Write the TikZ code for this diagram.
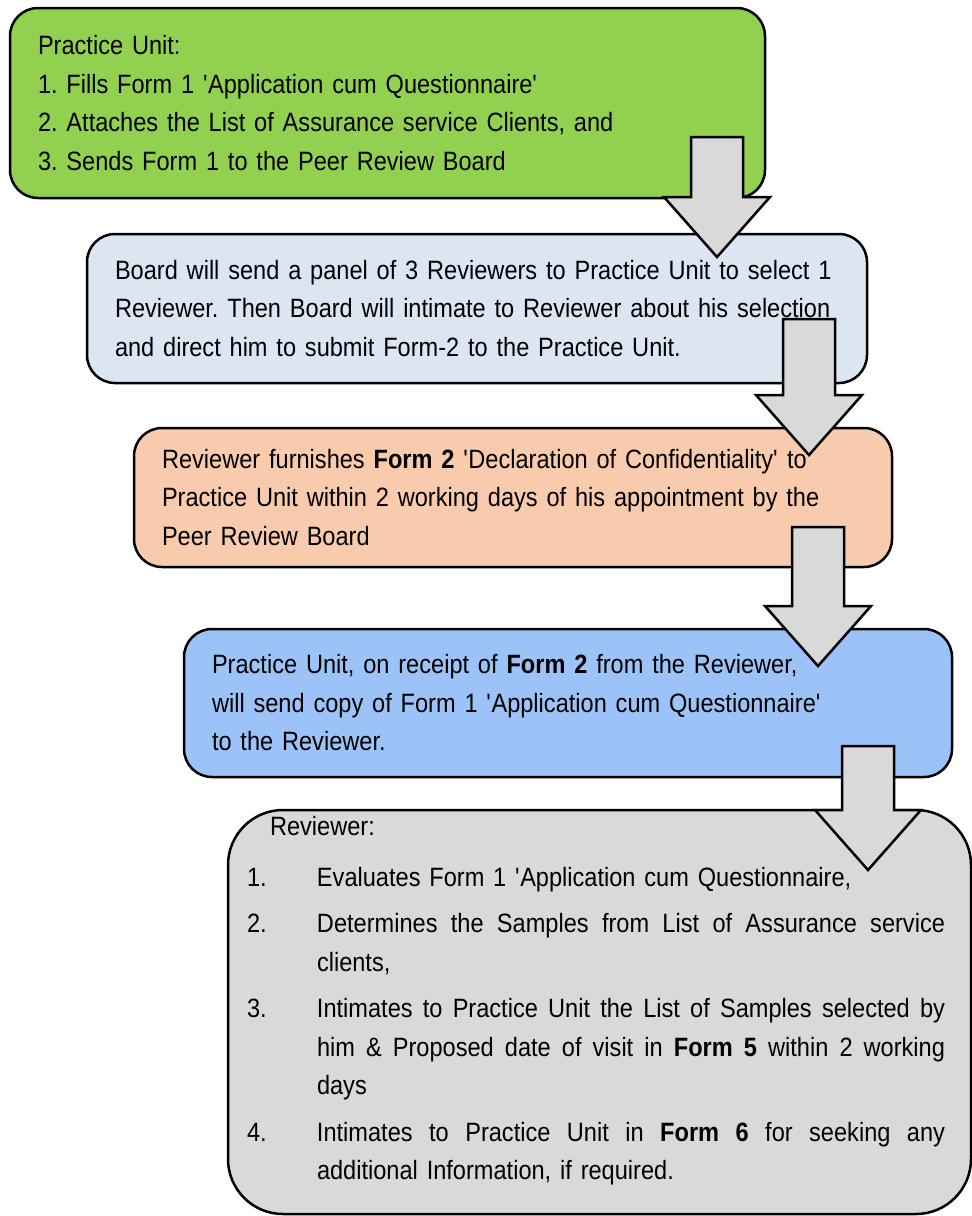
\documentclass[tikz,border=0pt]{standalone}
\usepackage{fontspec}
\setmainfont[FakeStretch=0.89]{Liberation Sans}
\usepackage{tikz}
\usetikzlibrary{positioning,calc}

\definecolor{unitgreen}{RGB}{146,208,80}
\definecolor{boardblue}{RGB}{220,230,242}
\definecolor{formpeach}{RGB}{248,203,173}
\definecolor{copyblue}{RGB}{155,195,248}
\definecolor{reviewgray}{RGB}{217,217,217}

\newcommand{\flowarrow}[2]{%
  \draw[blockarrow] let \p1=(#1), \p2=(#2) in
    (\x1-26pt,\y1) -- (\x1+26pt,\y1) -- (\x1+26pt,\y2+60pt) -- (\x1+53pt,\y2+60pt)
    -- (\x2,\y2) -- (\x1-53pt,\y2+60pt) -- (\x1-26pt,\y2+60pt) -- cycle;}
\newcommand{\justline}[1]{\makebox[628pt][s]{\spaceskip=0.25em plus 1fill minus 0.05em\relax #1}}

\begin{document}
\frenchspacing
\begin{tikzpicture}[x=1pt,y=-1pt,
    stepbox/.style={draw=black, line width=2.5pt, rectangle, rounded corners=28pt,
      align=left, inner xsep=28pt, inner ysep=0pt,
      font=\fontsize{26.5}{38.5}\selectfont},
    blockarrow/.style={draw=black, line width=2.5pt, fill=reviewgray, line join=miter}]
                            \useasboundingbox (0,0) rectangle (972,1216);
                            \node[stepbox, fill=unitgreen, text width=699pt, minimum height=190pt] (B_1) at (387.5,103)
                            {Practice Unit:\\
                            1. Fills Form 1 \textquotesingle Application cum Questionnaire\textquotesingle\\
                            2. Attaches the List of Assurance service Clients, and\\
                            3. Sends Form 1 to the Peer Review Board};
                            \node[stepbox, fill=boardblue, text width=724pt, minimum height=149pt] (B_2) at (477,308.5)
                            {Board will send a panel of 3 Reviewers to Practice Unit to select 1\\
                            Reviewer. Then Board will intimate to Reviewer about his selection\\
                            and direct him to submit Form-2 to the Practice Unit.};
                            \node[stepbox, fill=formpeach, text width=702pt, minimum height=139pt] (B_3) at (513,497.5)
                            {Reviewer furnishes \textbf{Form 2} \textquotesingle Declaration of Confidentiality\textquotesingle{} to\\
                            Practice Unit within 2 working days of his appointment by the\\
                            Peer Review Board};
                            \node[stepbox, fill=copyblue, text width=712pt, minimum height=148pt] (B_4) at (568,703)
                            {Practice Unit, on receipt of \textbf{Form 2} from the Reviewer,\\
                            will send copy of Form 1 \textquotesingle Application cum Questionnaire\textquotesingle\\
                            to the Reviewer.};
                            \node[stepbox, fill=reviewgray, rounded corners=55pt, inner xsep=19pt, text width=705pt,
                              minimum height=404pt] (B_5) at (599.5,1012)
                            {\hspace*{23pt}Reviewer:\\[12pt]
                            \makebox[70pt][l]{1.}Evaluates Form 1 \textquotesingle Application cum Questionnaire,\\[8pt]
                            \makebox[70pt][l]{2.}\justline{Determines the Samples from List of Assurance service}\\
                            \hspace*{70pt}clients,\\[8pt]
                            \makebox[70pt][l]{3.}\justline{Intimates to Practice Unit the List of Samples selected by}\\
                            \hspace*{70pt}\justline{him \& Proposed date of visit in \textbf{Form 5} within 2 working}\\
                            \hspace*{70pt}days\\[8pt]
                            \makebox[70pt][l]{4.}\justline{Intimates to Practice Unit in \textbf{Form 6} for seeking any}\\
                            \hspace*{70pt}additional Information, if required.\rule[-28pt]{0pt}{0pt}};
                            \coordinate (A_1s) at (717,137);
                            \coordinate (A_1e) at (717,257);
                            \coordinate (A_2s) at (809,319);
                            \coordinate (A_2e) at (809,455);
                            \coordinate (A_3s) at (818,527);
                            \coordinate (A_3e) at (818,666);
                            \coordinate (A_4s) at (868,746);
                            \coordinate (A_4e) at (868,870);
                            \flowarrow{A_1s}{A_1e}
                            \flowarrow{A_2s}{A_2e}
                            \flowarrow{A_3s}{A_3e}
                            \flowarrow{A_4s}{A_4e}
                        \end{tikzpicture}
\end{document}
